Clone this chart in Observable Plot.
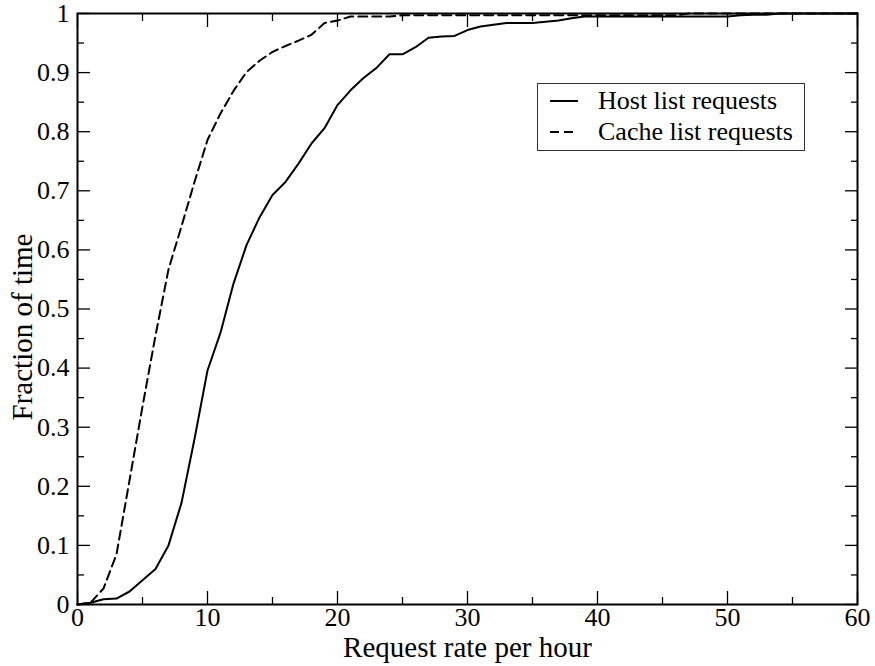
<!DOCTYPE html>
<html>
<head>
<meta charset="utf-8">
<script src="https://cdn.jsdelivr.net/npm/d3@7"></script>
<script src="https://cdn.jsdelivr.net/npm/@observablehq/plot@0.6"></script>
<style>
  html, body { margin: 0; padding: 0; background: #fff; }
  #wrap { position: relative; width: 875px; height: 666px; font-family: "Liberation Serif", "Times New Roman", serif; }
  #legend { position: absolute; left: 537px; top: 83px; width: 268px; height: 68px; border: 1px solid #333; background: #fff; box-sizing: border-box; }
  #legend .row { position: absolute; left: 0; height: 30px; display: flex; align-items: center; font-size: 26px; color: #000; white-space: nowrap; }
  #legend svg { margin-left: 12px; margin-right: 20px; }
</style>
</head>
<body>
<div id="wrap"></div>
<script>
// Request rate per hour (x)
const rates = [0,1,2,3,4,5,6,7,8,9,10,11,12,13,14,15,16,17,18,19,20,21,22,23,24,25,26,27,28,29,30,31,32,33,34,35,36,37,38,39,40,41,42,43,44,45,46,47,48,49,50,51,52,53,54,55,56,57,58,59,60];
// Fraction of time — Host list requests (solid)
const hostFraction = [0,0.003,0.009,0.01,0.022,0.041,0.06,0.10,0.172,0.28,0.396,0.46,0.543,0.608,0.655,0.693,0.715,0.746,0.78,0.806,0.845,0.87,0.891,0.908,0.931,0.931,0.943,0.959,0.961,0.962,0.972,0.978,0.981,0.984,0.984,0.984,0.986,0.988,0.992,0.995,0.995,0.995,0.995,0.995,0.995,0.995,0.995,0.995,0.995,0.995,0.995,0.997,0.998,0.998,1,1,1,1,1,1,1];
// Fraction of time — Cache list requests (dashed)
const cacheFraction = [0,0.003,0.027,0.085,0.21,0.335,0.455,0.567,0.64,0.715,0.786,0.831,0.869,0.901,0.92,0.935,0.945,0.954,0.964,0.984,0.988,0.995,0.995,0.995,0.995,0.997,0.997,0.997,0.997,0.997,0.997,0.997,0.997,0.997,0.997,0.997,0.997,0.997,0.997,0.997,0.997,0.997,0.997,0.997,0.997,0.997,0.997,1,1,1,1,1,1,1,1,1,1,1,1,1,1];
const seriesNames = ["Host list requests", "Cache list requests"];
const xMajorTicks = [0,10,20,30,40,50,60];
const xMinorTicks = [5,15,25,35,45,55];
const yMajorTicks = [0,0.1,0.2,0.3,0.4,0.5,0.6,0.7,0.8,0.9,1];
const yMinorTicks = [0.05,0.15,0.25,0.35,0.45,0.55,0.65,0.75,0.85,0.95];
const xLabel = "Request rate per hour";
const yLabel = "Fraction of time";

const host = rates.map((r, i) => ({x: r, y: hostFraction[i]}));
const cache = rates.map((r, i) => ({x: r, y: cacheFraction[i]}));

const font = "Liberation Serif";
const tickFont = 26;
const tickStyle = {stroke: "#000", strokeWidth: 1.3, label: null};
const chart = Plot.plot({
  width: 875,
  height: 666,
  marginLeft: 77,
  marginRight: 18,
  marginTop: 13,
  marginBottom: 62,
  style: {fontFamily: font, color: "#000", background: "#fff", overflow: "visible"},
  x: {domain: [0, 60]},
  y: {domain: [0, 1]},
  marks: [
    Plot.line(host, {x: "x", y: "y", stroke: "#000", strokeWidth: 2}),
    Plot.line(cache, {x: "x", y: "y", stroke: "#000", strokeWidth: 2, strokeDasharray: "9,5"}),
    Plot.axisX({anchor: "bottom", ticks: xMajorTicks, tickSize: -13, tickPadding: 16, fontSize: tickFont, tickFormat: d => String(d), ...tickStyle}),
    Plot.axisX({anchor: "bottom", ticks: xMinorTicks, tickSize: -7, text: null, ...tickStyle}),
    Plot.axisX({anchor: "top", ticks: xMajorTicks, tickSize: -13, text: null, ...tickStyle}),
    Plot.axisX({anchor: "top", ticks: xMinorTicks, tickSize: -7, text: null, ...tickStyle}),
    Plot.axisY({anchor: "left", ticks: yMajorTicks, tickSize: -13, tickPadding: 21, fontSize: tickFont, tickFormat: d => String(d), ...tickStyle}),
    Plot.axisY({anchor: "left", ticks: yMinorTicks, tickSize: -7, text: null, ...tickStyle}),
    Plot.axisY({anchor: "right", ticks: yMajorTicks, tickSize: -13, text: null, ...tickStyle}),
    Plot.axisY({anchor: "right", ticks: yMinorTicks, tickSize: -7, text: null, ...tickStyle}),
    Plot.text([xLabel], {frameAnchor: "bottom", text: d => d, textAnchor: "middle", dy: 52, fontSize: 29, fill: "#000"}),
    Plot.text([yLabel], {frameAnchor: "left", text: d => d, textAnchor: "middle", lineAnchor: "middle", rotate: -90, dx: -55, dy: 18, fontSize: 29, fill: "#000"}),
    Plot.frame({stroke: "#000", strokeWidth: 2})
  ]
});
const wrap = document.getElementById("wrap");
wrap.appendChild(chart);

// Legend
const legend = document.createElement("div");
legend.id = "legend";
seriesNames.forEach((name, i) => {
  const row = document.createElement("div");
  row.className = "row";
  row.style.top = (2 + i * 31) + "px";
  const dash = i === 0 ? "" : 'stroke-dasharray="9,5"';
  row.innerHTML = `<svg width="28" height="10"><line x1="0" y1="5" x2="28" y2="5" stroke="#000" stroke-width="2" ${dash}/></svg><span>${name}</span>`;
  legend.appendChild(row);
});
wrap.appendChild(legend);
</script>
</body>
</html>
